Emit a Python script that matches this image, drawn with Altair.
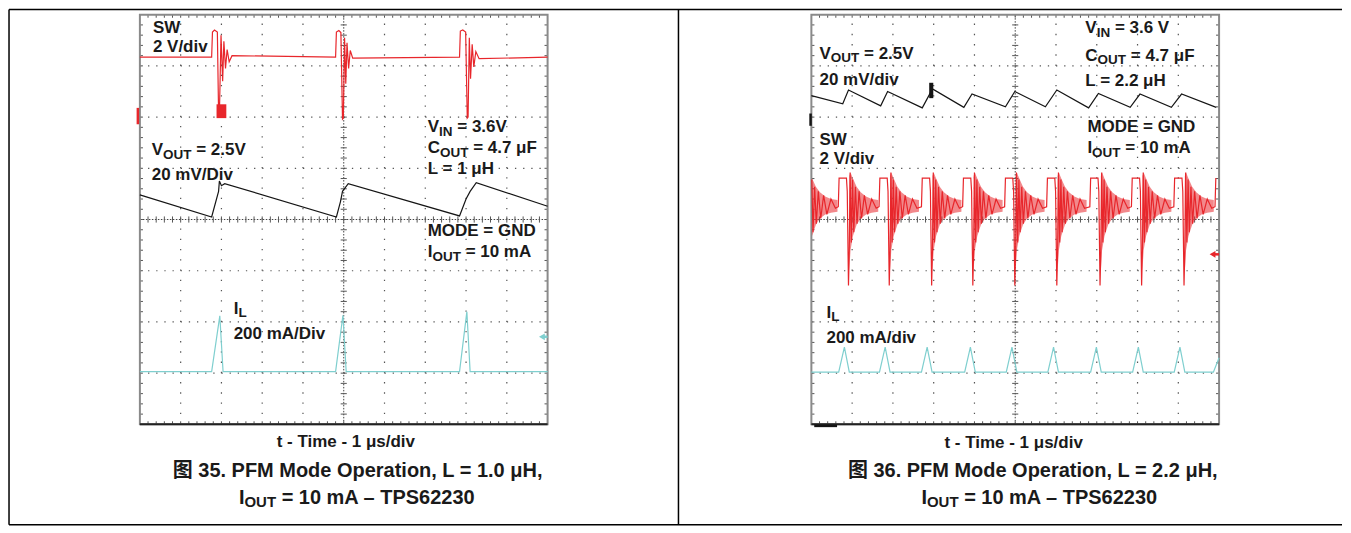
import altair as alt
import pandas as pd
import numpy as np

# ---------------- values ----------------
# x: time in divisions (1 us/div, 0..10), y: screen divisions (0 = bottom, 8 = top)

# Left screen  (L = 1.0 uH)
L_SW_X = [0.0, 1.76, 1.78, 1.83, 1.90, 1.93, 1.95, 1.99, 2.03, 2.06, 2.10, 2.14, 2.19, 2.26,
          4.80, 4.82, 4.88, 4.93, 4.97, 4.99, 5.02, 5.05, 5.08, 5.12, 5.16, 5.22,
          7.84, 7.86, 7.92, 7.99, 8.03, 8.05, 8.08, 8.11, 8.15, 8.19, 8.24, 8.32, 10.0]
L_SW_Y = [7.17, 7.17, 7.66, 7.70, 7.66, 6.08, 6.05, 7.60, 6.70, 7.48, 6.95, 7.32, 7.08, 7.20,
          7.17, 7.66, 7.69, 7.65, 5.96, 5.98, 7.55, 6.65, 7.45, 6.95, 7.30, 7.15,
          7.17, 7.68, 7.70, 7.66, 5.98, 6.00, 7.55, 6.75, 7.42, 6.98, 7.28, 7.14, 7.17]
L_VOUT_X = [0.0, 1.76, 1.93, 1.95, 2.00, 2.08, 4.82, 4.92, 4.97, 5.11, 7.84, 8.00, 8.10, 8.25, 10.0]
L_VOUT_Y = [4.48, 4.05, 4.55, 4.75, 4.66, 4.70, 4.05, 4.35, 4.55, 4.70, 4.07, 4.40, 4.55, 4.72, 4.26]
L_IL_X = [0.0, 1.76, 1.96, 2.04, 4.80, 4.98, 5.06, 7.84, 8.02, 8.10, 10.0]
L_IL_Y = [1.03, 1.03, 2.12, 1.03, 1.03, 2.13, 1.03, 1.03, 2.20, 1.03, 1.03]

# Right screen (L = 2.2 uH)
R_VOUT_X = [0.0, 0.77, 0.91, 1.70, 1.87, 2.72, 2.97, 3.74, 3.94, 4.76, 4.99, 5.74, 6.02,
            6.80, 7.04, 7.82, 8.06, 8.83, 9.08, 9.93]
R_VOUT_Y = [6.42, 6.26, 6.53, 6.22, 6.50, 6.18, 6.55, 6.19, 6.45, 6.20, 6.50, 6.20, 6.53,
            6.18, 6.46, 6.19, 6.45, 6.19, 6.45, 6.19]
R_IL_X = [0.0, 0.67, 0.81, 0.93, 1.67, 1.81, 1.93, 2.70, 2.84, 2.96, 3.76, 3.90, 4.02,
          4.78, 4.92, 5.04, 5.80, 5.94, 6.06, 6.85, 6.99, 7.11, 7.88, 8.02, 8.14,
          8.90, 9.04, 9.16, 9.86, 10.0]
R_IL_Y = [1.02, 1.02, 1.51, 1.02, 1.02, 1.51, 1.02, 1.02, 1.51, 1.02, 1.02, 1.51, 1.02,
          1.02, 1.51, 1.02, 1.02, 1.51, 1.02, 1.02, 1.51, 1.02, 1.02, 1.51, 1.02,
          1.02, 1.51, 1.02, 1.02, 1.30]
# SW switching bursts: start of each pulse (read), and the shape of one burst (read)
R_SW_RISES = [-0.34, 0.66, 1.66, 2.70, 3.71, 4.74, 5.77, 6.83, 7.85, 8.89, 9.90]
SW_PULSE_DT = [0.00, 0.02, 0.20, 0.22, 0.25, 0.27, 0.29, 0.32, 0.35, 0.38, 0.42, 0.46,
               0.51, 0.57, 0.64, 0.72, 0.82, 0.93]
SW_PULSE_Y = [4.25, 4.81, 4.81, 4.55, 2.71, 3.40, 4.92, 3.55, 4.78, 3.75, 4.64, 3.92,
              4.55, 4.02, 4.47, 4.10, 4.40, 4.22]
RING_DT = [0.27, 0.30, 0.36, 0.45, 0.55, 0.68, 0.82, 0.98]
RING_HI = [4.85, 4.92, 4.80, 4.64, 4.53, 4.45, 4.40, 4.38]
RING_LO = [3.00, 3.40, 3.68, 3.90, 4.02, 4.10, 4.13, 4.15]

# ---------------- layout constants ----------------
PXX, PXY = 40.8, 51.25          # pixels per division
XD = [-3.235, 29.485]
YD = [-1.981, 8.107]
ROFF = 16.47                    # right screen origin in division units
RED, BLACK, CYAN = "#e8262b", "#151515", "#7fcfcf"
FONT = "Liberation Sans"
CJK = "Liberation Sans, 'Noto Sans CJK SC'"

W = {' ': 278, '.': 278, ',': 278, '=': 584, '-': 333, '–': 556, '/': 278,
     'A': 722, 'C': 722, 'D': 722, 'E': 667, 'F': 611, 'G': 778, 'H': 722, 'I': 278,
     'L': 611, 'M': 833, 'N': 722, 'O': 778, 'P': 667, 'S': 667, 'T': 611, 'U': 722,
     'V': 667, 'W': 944, 'a': 556, 'd': 611, 'e': 556, 'i': 278, 'm': 889, 'n': 611,
     'o': 611, 'p': 611, 'r': 389, 's': 556, 't': 333, 'v': 556, 'μ': 576, '图': 1000}
for d in "0123456789":
    W[d] = 556


def tw(s, size):
    return sum(W.get(c, 600) for c in s) / 1000.0 * size


def X(f="x"):
    return alt.X(f, type="quantitative", scale=alt.Scale(domain=XD, nice=False, zero=False), axis=None)


def Y(f="y"):
    return alt.Y(f, type="quantitative", scale=alt.Scale(domain=YD, nice=False, zero=False), axis=None)


# ---------------- traces ----------------
rows = []
def add_trace(name, xs, ys, off, color):
    for a, b in zip(xs, ys):
        rows.append(dict(x=a + off, y=b, trace=name, color=color))

add_trace("lsw", L_SW_X, L_SW_Y, 0, RED)
add_trace("lvout", L_VOUT_X, L_VOUT_Y, 0, BLACK)
add_trace("lil", L_IL_X, L_IL_Y, 0, CYAN)
add_trace("rvout", R_VOUT_X, R_VOUT_Y, ROFF, BLACK)
add_trace("ril", R_IL_X, R_IL_Y, ROFF, CYAN)

sw_x, sw_y = [], []
ring = []
for i, t0 in enumerate(R_SW_RISES):
    nxt = R_SW_RISES[i + 1] if i + 1 < len(R_SW_RISES) else 99
    for dt, v in zip(SW_PULSE_DT, SW_PULSE_Y):
        t = t0 + dt
        if t < nxt and 0 <= t <= 10:
            sw_x.append(t)
            sw_y.append(v)
    for dt, hi, lo in zip(RING_DT, RING_HI, RING_LO):
        t = t0 + dt
        if t < nxt and 0 <= t <= 10:
            ring.append(dict(x=t + ROFF, hi=hi, lo=lo, pulse=i))
add_trace("rsw", sw_x, sw_y, ROFF, RED)

traces = pd.DataFrame(rows)
ring_df = pd.DataFrame(ring)

# ---------------- graticule ----------------
grid_v, grid_h, ticks, center_v, center_h = [], [], [], [], []
for off in (0, ROFF):
    for k in range(1, 10):
        if k != 5:
            grid_v.append(dict(x=off + k, x2=off + k, y=0, y2=8))
    for k in range(1, 8):
        if k != 4:
            grid_h.append(dict(x=off, x2=off + 10, y=k, y2=k))
    center_v.append(dict(x=off + 5, x2=off + 5, y=0, y2=8))
    center_h.append(dict(x=off, x2=off + 10, y=4, y2=4))
    for t in np.arange(0.2, 10.0, 0.2):
        ticks.append(dict(x=off + t, x2=off + t, y=4 - 0.06, y2=4 + 0.06))
        ticks.append(dict(x=off + t, x2=off + t, y=0, y2=0.06))
        ticks.append(dict(x=off + t, x2=off + t, y=8 - 0.06, y2=8))
    for t in np.arange(0.2, 8.0, 0.2):
        ticks.append(dict(x=off + 5 - 0.075, x2=off + 5 + 0.075, y=t, y2=t))
        ticks.append(dict(x=off, x2=off + 0.075, y=t, y2=t))
        ticks.append(dict(x=off + 10 - 0.075, x2=off + 10, y=t, y2=t))

boxes = pd.DataFrame([dict(x=o, x2=o + 10, y=0, y2=8) for o in (0, ROFF)])
bottoms = pd.DataFrame([dict(x=o, x2=o + 10, y=0, y2=0) for o in (0, ROFF)])

# outer table frame
frame = pd.DataFrame([
    dict(x=-3.21, x2=XD[1], y=8.10, y2=8.10),
    dict(x=-3.21, x2=XD[1], y=-1.961, y2=-1.961),
    dict(x=-3.21, x2=-3.21, y=-1.961, y2=8.10),
    dict(x=13.21, x2=13.21, y=-1.961, y2=8.10),
])

# channel markers
marks_rule = pd.DataFrame([
    dict(x=-0.05, x2=-0.05, y=5.86, y2=6.18, color=RED),
    dict(x=ROFF - 0.02, x2=ROFF - 0.02, y=5.83, y2=6.07, color=BLACK),
    dict(x=9.86, x2=10.0, y=1.71, y2=1.71, color=CYAN),
    dict(x=ROFF + 9.84, x2=ROFF + 10.0, y=3.32, y2=3.32, color=RED),
    dict(x=ROFF + 0.07, x2=ROFF + 0.63, y=-0.03, y2=-0.03, color=BLACK),
])
marks_rect = pd.DataFrame([
    dict(x=1.88, x2=2.12, y=5.98, y2=6.25, color=RED),
    dict(x=ROFF + 2.89, x2=ROFF + 2.99, y=6.37, y2=6.67, color=BLACK),
])
arrows = pd.DataFrame([
    dict(x=9.86, y=1.71, color=CYAN),
    dict(x=ROFF + 9.84, y=3.32, color=RED),
])

# ---------------- text ----------------
TXT = "#1a1a1a"
texts = []
def label(off, x, y, segs, size=17, sub=13.5, center=False, drop=4.5):
    parts = []
    run = 0.0
    for s, is_sub in segs:
        sz = sub if is_sub else size
        lead = len(s) - len(s.lstrip())
        run += tw(" " * lead, sz)
        parts.append((s.strip(), sz, is_sub, run))
        run += tw(s.strip(), sz)
    start = x - (run / PXX / 2 if center else 0)
    for s, sz, is_sub, r in parts:
        texts.append(dict(x=off + start + r / PXX, y=y - (drop / PXY if is_sub else 0.0),
                          text=s, size=sz))

def plain(s):
    return [(s, 0)]

# left screen labels
label(0, 0.32, 7.73, plain("SW"))
label(0, 0.32, 7.36, plain("2 V/div"))
label(0, 0.29, 5.35, [("V", 0), ("OUT", 1), (" = 2.5V", 0)])
label(0, 0.29, 4.86, plain("20 mV/Div"))
label(0, 7.06, 5.80, [("V", 0), ("IN", 1), (" = 3.6V", 0)])
label(0, 7.06, 5.39, [("C", 0), ("OUT", 1), (" = 4.7 μF", 0)])
label(0, 7.06, 4.98, plain("L = 1 μH"))
label(0, 7.06, 3.77, plain("MODE = GND"))
label(0, 7.06, 3.36, [("I", 0), ("OUT", 1), (" = 10 mA", 0)])
label(0, 2.30, 2.26, [("I", 0), ("L", 1)])
label(0, 2.30, 1.76, plain("200 mA/Div"))
# right screen labels
label(ROFF, 6.72, 7.73, [("V", 0), ("IN", 1), (" = 3.6 V", 0)])
label(ROFF, 6.72, 7.20, [("C", 0), ("OUT", 1), (" = 4.7 μF", 0)])
label(ROFF, 6.72, 6.71, plain("L = 2.2 μH"))
label(ROFF, 0.20, 7.24, [("V", 0), ("OUT", 1), (" = 2.5V", 0)])
label(ROFF, 0.20, 6.73, plain("20 mV/div"))
label(ROFF, 6.77, 5.81, plain("MODE = GND"))
label(ROFF, 6.77, 5.39, [("I", 0), ("OUT", 1), (" = 10 mA", 0)])
label(ROFF, 0.20, 5.56, plain("SW"))
label(ROFF, 0.20, 5.19, plain("2 V/div"))
label(ROFF, 0.37, 2.18, [("I", 0), ("L", 1)])
label(ROFF, 0.37, 1.69, plain("200 mA/div"))
scope_text = pd.DataFrame(texts)

texts = []
label(0, 5.05, -0.34, plain("t - Time - 1 μs/div"), size=17, center=True)
label(ROFF, 4.96, -0.37, plain("t - Time - 1 μs/div"), size=17, center=True)
label(0, 5.34, -0.907, plain("图 35. PFM Mode Operation, L = 1.0 μH,"), size=20, center=True)
label(ROFF, 5.43, -0.907, plain("图 36. PFM Mode Operation, L = 2.2 μH,"), size=20, center=True)
label(0, 5.33, -1.434, [("I", 0), ("OUT", 1), (" = 10 mA – TPS62230", 0)], size=20, sub=15, center=True)
label(ROFF, 5.60, -1.434, [("I", 0), ("OUT", 1), (" = 10 mA – TPS62230", 0)], size=20, sub=15, center=True)
caption_text = pd.DataFrame(texts)

# ---------------- chart ----------------
layers = []
rule_enc = dict(x=X("x"), x2="x2", y=Y("y"), y2="y2")

layers.append(alt.Chart(pd.DataFrame(grid_v)).mark_rule(color="#555", strokeWidth=1.2, strokeDash=[1.3, 8.95]).encode(**rule_enc))
layers.append(alt.Chart(pd.DataFrame(grid_h)).mark_rule(color="#555", strokeWidth=1.2, strokeDash=[1.3, 6.86]).encode(**rule_enc))
layers.append(alt.Chart(pd.DataFrame(center_v)).mark_rule(color="#444", strokeWidth=1, strokeDash=[1.5, 1.5]).encode(**rule_enc))
layers.append(alt.Chart(pd.DataFrame(center_h)).mark_rule(color="#444", strokeWidth=1, strokeDash=[1.5, 1.5]).encode(**rule_enc))
layers.append(alt.Chart(pd.DataFrame(ticks)).mark_rule(color="#555", strokeWidth=1).encode(**rule_enc))
layers.append(alt.Chart(boxes).mark_rect(fillOpacity=0, stroke="#8a8a8a", strokeWidth=2).encode(**rule_enc))
layers.append(alt.Chart(bottoms).mark_rule(color="#222", strokeWidth=2).encode(**rule_enc))
layers.append(alt.Chart(frame).mark_rule(color="#000", strokeWidth=1.5).encode(**rule_enc))

layers.append(alt.Chart(ring_df).mark_area(color=RED, opacity=0.55).encode(
    x=X("x"), y=Y("hi"), y2="lo", detail="pulse:N"))
layers.append(alt.Chart(traces).mark_line(strokeWidth=1.2).encode(
    x=X("x"), y=Y("y"), detail="trace:N", color=alt.Color("color:N", scale=None)))

layers.append(alt.Chart(marks_rule).mark_rule(strokeWidth=2.5).encode(
    **rule_enc, color=alt.Color("color:N", scale=None)))
layers.append(alt.Chart(marks_rect).mark_rect().encode(
    **rule_enc, color=alt.Color("color:N", scale=None)))
layers.append(alt.Chart(arrows).mark_point(shape="triangle-left", filled=True, size=45, opacity=1).encode(
    x=X("x"), y=Y("y"), color=alt.Color("color:N", scale=None)))

layers.append(alt.Chart(scope_text).mark_text(align="left", baseline="middle", font=FONT,
                                              fontWeight="bold", color=TXT).encode(
    x=X("x"), y=Y("y"), text="text:N", size=alt.Size("size:Q", scale=None)))
layers.append(alt.Chart(caption_text).mark_text(align="left", baseline="middle", font=CJK,
                                                fontWeight="bold", color=TXT).encode(
    x=X("x"), y=Y("y"), text="text:N", size=alt.Size("size:Q", scale=None)))

chart = alt.layer(*layers).properties(width=1335, height=517, padding=0).configure_view(stroke=None)
chart.save("out.html", embed_options={"renderer": "svg", "actions": False})
